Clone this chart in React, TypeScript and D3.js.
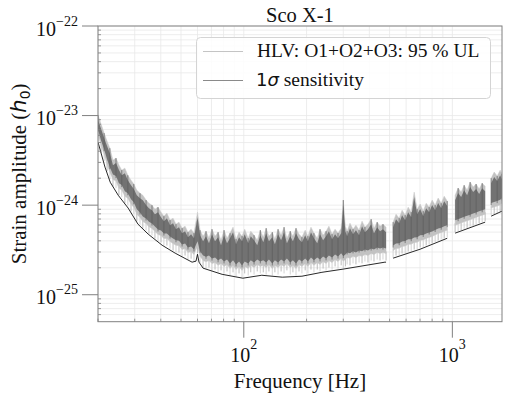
import React from "react";
import * as d3 from "d3";

// frequency bins of the upper-limit band (Hz)
const ulFreq = [
  20, 20.7, 21.4, 22.1, 22.8, 23.6, 24.4, 25.2, 26.0, 26.9,
  27.8, 28.8, 29.7, 30.7, 31.8, 32.8, 34.0, 35.1, 36.3, 37.5,
  38.8, 40.1, 41.4, 42.8, 44.3, 45.8, 47.3, 48.9, 50.6, 52.3,
  54.0, 55.9, 57.7, 60.0, 61.7, 63.8, 65.9, 68.1, 70.4, 72.8,
  75.3, 77.8, 80.4, 83.1, 85.9, 88.8, 91.8, 94.9, 98.1, 101,
  105, 108, 112, 116, 120, 124, 128, 132, 137, 141,
  146, 151, 156, 161, 167, 172, 178, 184, 190, 197,
  203, 210, 217, 225, 232, 240, 248, 256, 265, 274,
  283, 293, 300, 307, 313, 323, 334, 345, 357, 369,
  381, 394, 408, 421, 436, 450, 465, 481,
  520, 537, 556, 574, 594, 614, 635, 656, 678, 701,
  725, 749, 774, 800, 827, 855, 884, 914, 945,
  1031, 1066, 1102, 1139, 1177, 1217, 1258, 1300, 1344, 1390, 1436,
  1535, 1587, 1640, 1695, 1730,
];

// 95 % UL, top of each bin (units of 1e-25)
const ulHigh = [
  101, 80.4, 63.7, 51.9, 43.3, 31.8, 33.5, 28.0, 24.6, 25.9,
  21.6, 19.0, 17.2, 14.7, 13.6, 12.9, 11.4, 10.5, 10.0, 9.02,
  9.50, 8.35, 7.53, 8.14, 6.80, 7.16, 6.13, 6.46, 5.53, 5.83,
  4.99, 5.39, 4.87, 8.35, 5.26, 4.50, 5.12, 4.28, 5.39, 4.50,
  4.99, 4.06, 5.26, 4.28, 4.87, 5.68, 4.17, 4.99, 4.50, 5.39,
  4.28, 5.12, 4.62, 4.06, 5.26, 4.39, 5.53, 4.50, 4.99, 4.17,
  5.39, 4.62, 5.68, 4.28, 5.12, 4.50, 5.53, 4.74, 4.39, 5.26,
  4.50, 5.68, 4.87, 4.28, 5.39, 4.62, 5.12, 5.83, 4.74, 5.39,
  4.87, 5.53, 11.4, 5.83, 5.12, 6.29, 5.39, 5.98, 5.26, 6.63,
  5.68, 6.13, 6.98, 5.53, 6.46, 5.83, 6.13, 5.68,
  6.46, 7.93, 7.16, 8.79, 7.73, 9.50, 8.35, 14.0, 9.02, 10.3,
  8.57, 10.5, 9.50, 11.4, 10.0, 12.0, 10.5, 12.6, 11.1,
  12.9, 15.5, 14.0, 16.7, 14.7, 18.1, 15.9, 17.2, 15.1, 17.6, 16.3,
  20.0, 23.4, 21.1, 24.6, 22.2,
];

// 95 % UL, bottom of each bin (units of 1e-25)
const ulLow = [
  51.5, 38.5, 31.0, 23.9, 19.5, 16.2, 15.5, 12.9, 12.3, 10.5,
  9.98, 8.55, 7.91, 6.60, 6.08, 5.49, 5.21, 4.80, 4.58, 4.25,
  3.93, 3.83, 3.54, 3.54, 3.28, 3.11, 2.98, 2.95, 2.67, 2.74,
  2.47, 2.53, 2.35, 2.90, 2.25, 2.01, 1.95, 2.01, 1.86, 1.91,
  1.78, 1.87, 1.73, 1.82, 1.64, 1.78, 1.60, 1.73, 1.56, 1.73,
  1.64, 1.78, 1.68, 1.82, 1.73, 1.78, 1.68, 1.82, 1.64, 1.78,
  1.68, 1.82, 1.73, 1.87, 1.68, 1.78, 1.64, 1.82, 1.73, 1.87,
  1.73, 1.91, 1.78, 1.91, 1.82, 1.96, 1.87, 2.01, 1.91, 2.07,
  1.96, 2.13, 1.98, 2.07, 2.18, 2.13, 2.24, 2.18, 2.29, 2.24,
  2.35, 2.29, 2.41, 2.35, 2.47, 2.41, 2.47, 2.41,
  2.60, 2.74, 2.76, 2.89, 2.92, 3.05, 3.06, 3.20, 3.22, 3.38,
  3.42, 3.55, 3.64, 3.74, 3.88, 4.04, 4.12, 4.26, 4.38,
  4.98, 5.12, 5.28, 5.45, 5.58, 5.75, 5.92, 6.08, 6.27, 6.44, 6.62,
  7.75, 7.95, 8.15, 8.45, 8.75,
];

// 1 sigma sensitivity (units of 1e-25)
const sensFreq = [
  20, 21.6, 22.9, 25, 27.9, 31.1, 34.8, 40.6, 46.9, 56.5,
  59, 60, 61, 63.8, 78.7, 99, 122, 153, 190, 237,
  299, 475, 481, 520, 700, 945, 1031, 1436, 1535, 1730,
];
const sensValue = [
  50.6, 26.6, 18.0, 12.9, 9.28, 6.13, 4.75, 3.57, 2.91, 2.31,
  2.37, 2.83, 2.31, 1.98, 1.69, 1.53, 1.65, 1.57, 1.61, 1.78,
  1.93, 2.31, 2.31, 2.56, 3.22, 4.27, 4.87, 6.46, 7.54, 8.57,
];

// bands with no results (violin modes)
const gapBands = [[481, 520], [945, 1031], [1436, 1535]];

const xMajor = [100, 1000];
const xMajorExp = ["2", "3"];
const yMajor = [1e-22, 1e-23, 1e-24, 1e-25];
const yMajorExp = ["\u221222", "\u221223", "\u221224", "\u221225"];

const UNIT = 1e-25;
const W = 512;
const H = 396;
const plot = { left: 98, right: 502, top: 26, bottom: 321.7 };
const serif = "'Liberation Serif', 'Times New Roman', serif";
const sans = "'DejaVu Sans', sans-serif";

function segments(freq: number[]) {
  const out: number[][] = [];
  let cur: number[] = [];
  freq.forEach((f, i) => {
    if (i > 0 && gapBands.some(([a, b]) => freq[i - 1] <= a && f >= b)) {
      out.push(cur);
      cur = [];
    }
    cur.push(i);
  });
  out.push(cur);
  return out;
}

const isDecade = (v: number) => Math.abs(Math.log10(v) - Math.round(Math.log10(v))) < 1e-6;

export default function App() {
  const x = d3.scaleLog().domain([20, 1730]).range([plot.left, plot.right]);
  const y = d3.scaleLog().domain([5e-26, 1e-22]).range([plot.bottom, plot.top]);

  const yLo = (i: number) => y(ulLow[i] * UNIT);
  const yHi = (i: number) => y(ulHigh[i] * UNIT);

  // light part of the band (the sparse lower fringe is drawn as streaks)
  const band = d3
    .area<number>()
    .x(i => x(ulFreq[i]))
    .y0(i => yLo(i) - 7)
    .y1(yHi);
  // dense core of the band
  const core = d3
    .area<number>()
    .x(i => x(ulFreq[i]))
    .y0(i => yLo(i) - 12)
    .y1(i => Math.min(yHi(i) + 5, yLo(i) - 12));
  const sens = d3
    .line<number>()
    .x(i => x(sensFreq[i]))
    .y(i => y(sensValue[i] * UNIT));

  const ulSegs = segments(ulFreq);
  const sensSegs = segments(sensFreq);

  const xTicks = x.ticks();
  const yTicks = y.ticks();
  const xMinor = xTicks.filter(v => !isDecade(v));
  const yMinor = yTicks.filter(v => !isDecade(v));
  const axisColor = "#808080";

  return (
    <svg
      width={W}
      height={H}
      style={{ position: "absolute", left: 0, top: 0, background: "#fff" }}
      fontFamily={serif}
    >
      <defs>
        <clipPath id="plotClip">
          <rect x={plot.left} y={plot.top} width={plot.right - plot.left} height={plot.bottom - plot.top} />
        </clipPath>
      </defs>

      {/* grid */}
      <g stroke="#e8e8e8" strokeWidth={0.8}>
        {xTicks.map((v, i) => (
          <line key={"gx" + i} x1={x(v)} x2={x(v)} y1={plot.top} y2={plot.bottom} />
        ))}
        {yTicks.map((v, i) => (
          <line key={"gy" + i} x1={plot.left} x2={plot.right} y1={y(v)} y2={y(v)} />
        ))}
      </g>

      <g clipPath="url(#plotClip)">
        {/* lower fringe: single bins reaching down */}
        {ulFreq.map((f, i) => (
          <line
            key={"fr" + i}
            x1={x(f)}
            x2={x(f)}
            y1={yLo(i)}
            y2={yLo(i) - 9}
            stroke={i % 2 ? "#b4b4b4" : "#cfcfcf"}
            strokeWidth={0.9}
          />
        ))}
        {ulSegs.map((s, i) => (
          <path key={"ba" + i} d={band(s) || ""} fill="#c2c2c2" stroke="#c8c8c8" strokeWidth={0.5} />
        ))}
        {ulSegs.map((s, i) => (
          <path key={"co" + i} d={core(s) || ""} fill="#727272" />
        ))}
        {/* dark streaks of single bins */}
        {ulFreq.map((f, i) =>
          i % 2 === 0 ? (
            <line
              key={"sd" + i}
              x1={x(f)}
              x2={x(f)}
              y1={yLo(i) - 10}
              y2={yHi(i)}
              stroke="#5c5c5c"
              strokeWidth={0.7}
            />
          ) : null
        )}
        {sensSegs.map((s, i) => (
          <path key={"se" + i} d={sens(s) || ""} fill="none" stroke="#111" strokeWidth={0.9} />
        ))}
      </g>

      {/* frame */}
      <rect
        x={plot.left}
        y={plot.top}
        width={plot.right - plot.left}
        height={plot.bottom - plot.top}
        fill="none"
        stroke={axisColor}
        strokeWidth={1}
      />

      {/* minor ticks (inside) */}
      <g stroke={axisColor} strokeWidth={0.8}>
        {xMinor.map((v, i) => (
          <line key={"mx" + i} x1={x(v)} x2={x(v)} y1={plot.bottom} y2={plot.bottom - 3} />
        ))}
        {yMinor.map((v, i) => (
          <line key={"my" + i} x1={plot.left} x2={plot.left + 3} y1={y(v)} y2={y(v)} />
        ))}
      </g>

      {/* major ticks (outside) and labels */}
      {xMajor.map((v, i) => (
        <g key={"Mx" + i}>
          <line x1={x(v)} x2={x(v)} y1={plot.bottom} y2={plot.bottom + 16} stroke={axisColor} />
          <text x={x(v)} y={362} textAnchor="middle" fontSize={20} fill="#111">
            10
            <tspan fontSize={14} dy={-13}>
              {xMajorExp[i]}
            </tspan>
          </text>
        </g>
      ))}
      {yMajor.map((v, i) => (
        <g key={"My" + i}>
          <line x1={plot.left - 16} x2={plot.left} y1={y(v)} y2={y(v)} stroke={axisColor} />
          <text x={78} y={y(v) + 9.5} textAnchor="end" fontSize={20} fill="#111">
            10
            <tspan fontSize={14} dy={-10}>
              {yMajorExp[i]}
            </tspan>
          </text>
        </g>
      ))}

      {/* title and axis labels */}
      <text x={(plot.left + plot.right) / 2} y={21.5} textAnchor="middle" fontSize={20.5} fill="#111">
        Sco X-1
      </text>
      <text x={(plot.left + plot.right) / 2} y={388} textAnchor="middle" fontSize={21} fill="#111">
        Frequency [Hz]
      </text>
      <text
        transform={`translate(25.5,${(plot.top + plot.bottom) / 2}) rotate(-90)`}
        textAnchor="middle"
        fontSize={21}
        fill="#111"
      >
        Strain amplitude (
        <tspan fontFamily={sans} fontStyle="italic">
          h
        </tspan>
        <tspan fontFamily={sans} fontSize={14} dy={4}>
          0
        </tspan>
        <tspan dy={-4}>)</tspan>
      </text>

      {/* legend */}
      <g>
        <rect x={196.5} y={37.5} width={294} height={61} rx={4} fill="#fff" fillOpacity={0.85} stroke="#d4d4d4" />
        <line x1={203} x2={243} y1={51.5} y2={51.5} stroke="#c4c4c4" strokeWidth={1} />
        <text x={257} y={57} fontSize={19.5} fill="#111">
          HLV: O1+O2+O3: 95 % UL
        </text>
        <line x1={203} x2={243} y1={80.5} y2={80.5} stroke="#8a8a8a" strokeWidth={1} />
        <text x={256} y={86} fontSize={19.5} fill="#111">
          <tspan fontFamily={sans} fontSize={18}>1</tspan>
          <tspan fontFamily={sans} fontSize={18} fontStyle="italic">σ</tspan>
          <tspan> sensitivity</tspan>
        </text>
      </g>
    </svg>
  );
}
